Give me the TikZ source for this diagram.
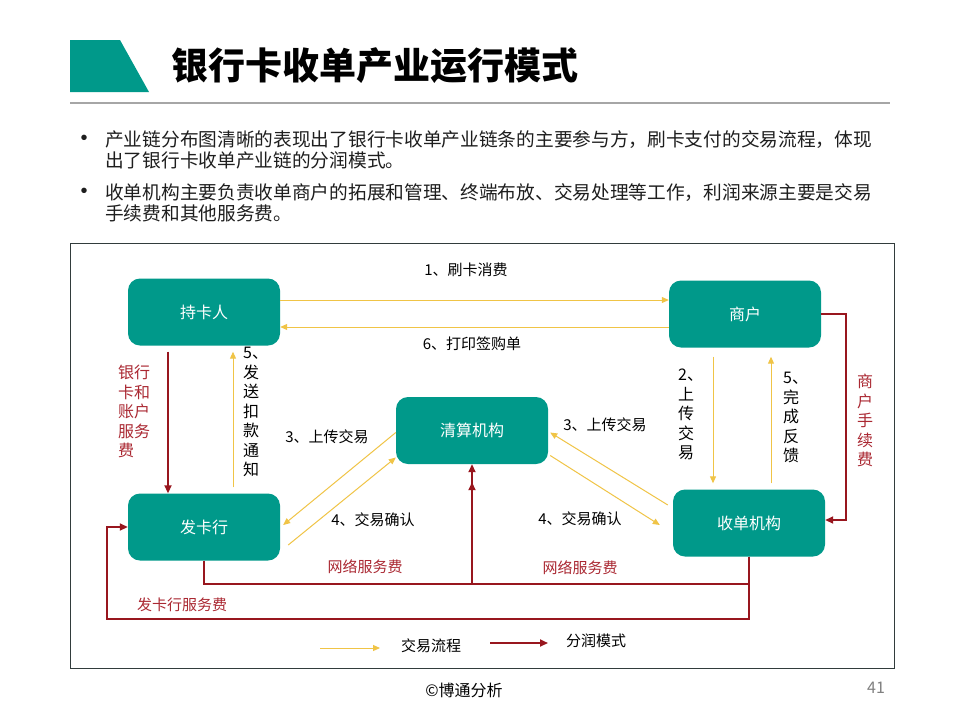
\documentclass[tikz,border=0pt]{standalone}
\usepackage{fontspec}
\setmainfont{Noto Sans CJK SC}
\newfontfamily\bulfont{Liberation Sans}
\usetikzlibrary{arrows.meta,calc}
\definecolor{teal1}{RGB}{0,153,138}
\definecolor{gold}{RGB}{240,196,70}
\definecolor{dred}{RGB}{152,22,30}
\definecolor{rtext}{RGB}{170,40,50}
\definecolor{framec}{RGB}{50,60,60}
\definecolor{bodyt}{RGB}{30,30,30}
\begin{document}
\begin{tikzpicture}[x=1pt,y=-1pt,
 box/.style={fill=teal1, rounded corners=12pt, minimum width=152pt, minimum height=67pt, inner sep=0pt, text=white, font=\fontsize{16}{19}\selectfont},
 flow/.style={draw=gold, line width=1pt, -{Triangle[length=7pt,width=6pt]}},
 share/.style={draw=dred, line width=1.8pt, -{Triangle[length=8pt,width=7pt]}},
 lbl/.style={font=\fontsize{15}{18}\selectfont, text=black, inner sep=0pt},
 rlbl/.style={font=\fontsize{15}{18}\selectfont, text=rtext, inner sep=0pt},
 vlbl/.style={font=\fontsize{16}{19.5}\selectfont, align=left, inner sep=0pt, anchor=north west},
 bul/.style={font=\fontsize{18.7}{20}\selectfont, text=bodyt, inner sep=0pt, anchor=west},
 dot/.style={font=\bulfont\fontsize{20}{20}\selectfont, text=bodyt, inner sep=0pt},
]
\useasboundingbox (0,0) rectangle (960,720);
\fill[white] (0,0) rectangle (960,720);
% title
\fill[teal1] (70,40) -- (120,40) -- (149,92) -- (70,92) -- cycle;
\node[anchor=west, inner sep=0pt, font=\bfseries\fontsize{37}{40}\selectfont] (title) at (171,66) {银行卡收单产业运行模式};
\draw[gray!70, line width=1.2pt] (70,103) -- (890,103);
% bullets
\node[dot] (b1) at (84,140) {•};
\node[bul] (t1) at (105,140) {产业链分布图清晰的表现出了银行卡收单产业链条的主要参与方，刷卡支付的交易流程，体现};
\node[bul] (t2) at (105,160) {出了银行卡收单产业链的分润模式。};
\node[dot] (b2) at (84,193) {•};
\node[bul] (t3) at (105,193) {收单机构主要负责收单商户的拓展和管理、终端布放、交易处理等工作，利润来源主要是交易};
\node[bul] (t4) at (105,213) {手续费和其他服务费。};
% frame
\draw[framec, line width=1pt] (70,243) rectangle (894,668);
% nodes
\node[box] (ck) at (204,312) {持卡人};
\node[box] (sh) at (745,314) {商户};
\node[box] (qs) at (472,430.5) {清算机构};
\node[box] (fk) at (204,527) {发卡行};
\node[box] (sd) at (749,523) {收单机构};
% flows
\draw[flow] ([yshift=12pt]ck.east) -- ([yshift=14pt]sh.west);
\draw[flow] ([yshift=-13pt]sh.west) -- ([yshift=-15pt]ck.east);
\draw[share] ([xshift=-36pt,yshift=-6pt]ck.south) -- ([xshift=-36pt]fk.north);
\draw[flow] ([xshift=29pt,yshift=6pt]fk.north) -- ([xshift=29pt,yshift=-6pt]ck.south);
\draw[flow] ([yshift=-2pt]qs.west) -- ([xshift=3pt,yshift=2pt]fk.east);
\draw[flow] ([xshift=8pt,yshift=-18pt]fk.east) -- ([yshift=-27pt]qs.west);
\draw[flow] ([xshift=-5pt,yshift=18pt]sd.west) -- ([xshift=2pt,yshift=-2pt]qs.east);
\draw[flow] ([xshift=2pt,yshift=-25pt]qs.east) -- ([xshift=-13pt,yshift=-2pt]sd.west);
\draw[flow] ([xshift=-32pt,yshift=-9pt]sh.south) -- ([xshift=-36pt,yshift=6pt]sd.north);
\draw[flow] ([xshift=22pt,yshift=6pt]sd.north) -- ([xshift=26pt,yshift=-9pt]sh.south);
% revenue
\draw[share] (sh.east) -- ++(25,0) |- ([yshift=3pt]sd.east);
\coordinate (jn) at (472,584);
\draw[share] (fk.south) |- (jn) -- (qs.south);
\draw[share] (sd.south) |- (jn) -- ([yshift=-18pt]qs.south);
\coordinate (cb) at (107,619);
\draw[share] (sd.south) |- (cb) |- (fk.west);
% labels
\node[lbl] (l1) at (466,270) {1、刷卡消费};
\node[lbl] (l6) at (472,344) {6、打印签购单};
\node[lbl] (l3a) at (327,437) {3、上传交易};
\node[lbl] (l3b) at (605,425) {3、上传交易};
\node[lbl] (l4a) at (373,520) {4、交易确认};
\node[lbl] (l4b) at (580,519) {4、交易确认};
\node[rlbl] (r1) at (365,567) {网络服务费};
\node[rlbl] (r2) at (580,568) {网络服务费};
\node[rlbl] (r3) at (182,605) {发卡行服务费};
\node[vlbl, text=rtext] (v1) at (118,365) {银行\\卡和\\账户\\服务\\费};
\node[vlbl] (v2) at (243,347) {5、\\发\\送\\扣\\款\\通\\知};
\node[vlbl] (v3) at (678,369) {2、\\上\\传\\交\\易};
\node[vlbl] (v4) at (783,372) {5、\\完\\成\\反\\馈};
\node[vlbl, text=rtext] (v5) at (857,374) {商\\户\\手\\续\\费};
% legend
\coordinate (ly1) at (320,648); \coordinate (ly2) at (380,648);
\draw[flow] (ly1) -- (ly2);
\node[lbl] (lg1) at (431,646) {交易流程};
\coordinate (lr1) at (490,643); \coordinate (lr2) at (548,643);
\draw[share] (lr1) -- (lr2);
\node[lbl] (lg2) at (596,641) {分润模式};
% footer
\node[lbl, font=\fontsize{16}{18}\selectfont] (ft) at (464,690) {©博通分析};
\node[lbl, text=gray, font=\fontsize{16}{18}\selectfont] (pg) at (876,688) {41};
\end{tikzpicture}
\end{document}
